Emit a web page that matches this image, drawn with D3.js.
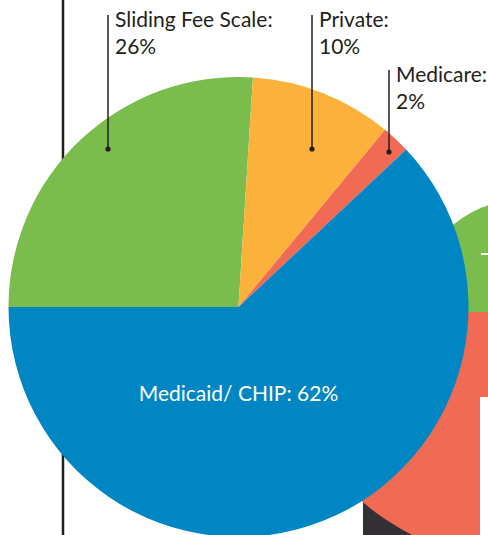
<!DOCTYPE html>
<html>
<head>
<meta charset="utf-8">
<script src="https://cdn.jsdelivr.net/npm/d3@7"></script>
<style>
  html, body { margin: 0; padding: 0; background: #fff; }
  svg { display: block; }
  text { font-family: Lato, "Open Sans", sans-serif; font-weight: 400; }
</style>
</head>
<body>
<svg width="488" height="535"></svg>
<script>
// payer mix
var categories = ["Sliding Fee Scale", "Private", "Medicare", "Medicaid/ CHIP"];
var shares = [26, 10, 2, 62];
var colors = ["#7abd4c", "#fbb13a", "#f06a54", "#0087c3"];

// callout layout for the three small slices (label x, dot y, first baseline)
var callouts = [
  {x: 115, dotY: 149, textY: 27},
  {x: 319, dotY: 149, textY: 27},
  {x: 396, dotY: 152, textY: 82}
];

var svg = d3.select("svg"),
    width = +svg.attr("width"),
    height = +svg.attr("height"),
    cx = 238.5, cy = 307, radius = 230;

var ink = "#231f20";

// --- partly hidden chart behind, on the right
var back = svg.append("g").attr("transform", "translate(525,312)");
svg.insert("rect", "g")
    .attr("x", 363).attr("y", 498)
    .attr("width", 117).attr("height", height - 498)
    .attr("fill", "#333136");
back.append("path")
    .attr("d", d3.arc()({innerRadius: 0, outerRadius: 250, startAngle: Math.PI, endAngle: 1.5 * Math.PI}))
    .attr("fill", colors[2]);
back.append("path")
    .attr("d", d3.arc()({innerRadius: 0, outerRadius: 113, startAngle: 1.5 * Math.PI, endAngle: 2.5 * Math.PI}))
    .attr("fill", colors[0]);
svg.append("rect")
    .attr("x", 480).attr("y", 397)
    .attr("width", width - 480).attr("height", height - 397)
    .attr("fill", "#fff");
svg.append("rect")
    .attr("x", 481).attr("y", 253)
    .attr("width", 7).attr("height", 2)
    .attr("fill", "#fff");

// vertical rule
svg.append("line")
    .attr("x1", 63).attr("x2", 63)
    .attr("y1", 0).attr("y2", height)
    .attr("stroke", ink)
    .attr("stroke-width", 2.5);

// --- main pie
var pie = d3.pie()
    .sort(null)
    .startAngle(-Math.PI / 2)
    .endAngle(1.5 * Math.PI)
    .value(function(d) { return d; });

var arc = d3.arc().innerRadius(0).outerRadius(radius);

var arcs = pie(shares);

var g = svg.append("g").attr("transform", "translate(" + cx + "," + cy + ")");

g.selectAll(".slice")
  .data(arcs)
  .enter().append("path")
    .attr("class", "slice")
    .attr("d", arc)
    .attr("fill", function(d, i) { return colors[i]; });

// big slice label inside
g.append("text")
    .attr("x", 0)
    .attr("y", 94)
    .attr("text-anchor", "middle")
    .attr("fill", "#fff")
    .style("font-size", "21px")
    .text(categories[3] + ": " + shares[3] + "%");

// callouts
var call = svg.selectAll(".callout")
  .data(callouts)
  .enter().append("g")
    .attr("class", "callout");

call.append("line")
    .attr("x1", function(d) { return d.x - 7; })
    .attr("x2", function(d) { return d.x - 7; })
    .attr("y1", function(d) { return d.textY - 12; })
    .attr("y2", function(d) { return d.dotY; })
    .attr("stroke", ink)
    .attr("stroke-width", 1.5);

call.append("circle")
    .attr("cx", function(d) { return d.x - 7; })
    .attr("cy", function(d) { return d.dotY; })
    .attr("r", 2.6)
    .attr("fill", ink);

var txt = call.append("text")
    .attr("x", function(d) { return d.x; })
    .attr("y", function(d) { return d.textY; })
    .attr("fill", ink)
    .style("font-size", "21px");

txt.append("tspan")
    .text(function(d, i) { return categories[i] + ":"; });
txt.append("tspan")
    .attr("x", function(d) { return d.x; })
    .attr("dy", 27)
    .text(function(d, i) { return shares[i] + "%"; });
</script>
</body>
</html>
